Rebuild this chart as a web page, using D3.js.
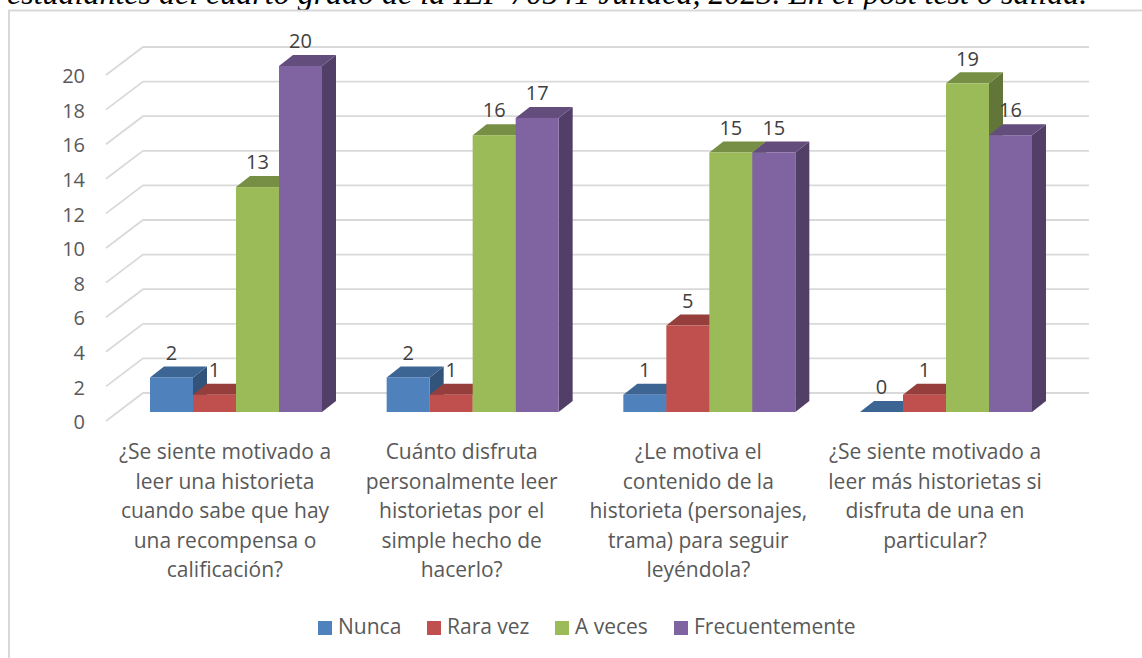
<!DOCTYPE html>
<html>
<head>
<meta charset="utf-8">
<script src="https://cdn.jsdelivr.net/npm/d3@7"></script>
<style>
html, body { margin: 0; padding: 0; background: #fff; overflow: hidden; }
svg { display: block; }
text { font-family: "Open Sans", sans-serif; }
</style>
</head>
<body>
<script>
// chart values
const categories = [
  ["¿Se siente motivado a", "leer una historieta", "cuando sabe que hay", "una recompensa o", "calificación?"],
  ["Cuánto disfruta", "personalmente leer", "historietas por el", "simple hecho de", "hacerlo?"],
  ["¿Le motiva el", "contenido de la", "historieta (personajes,", "trama) para seguir", "leyéndola?"],
  ["¿Se siente motivado a", "leer más historietas si", "disfruta de una en", "particular?"]
];
const seriesNames = ["Nunca", "Rara vez", "A veces", "Frecuentemente"];
const nunca = [2, 2, 1, 0];
const raraVez = [1, 1, 5, 1];
const aVeces = [13, 16, 15, 19];
const frecuentemente = [20, 17, 15, 16];
const yTicks = [0, 2, 4, 6, 8, 10, 12, 14, 16, 18, 20];
const caption = "estudiantes del cuarto grado de la IEP 70541 Juliaca, 2023. En el post test o salida.";

const seriesValues = [nunca, raraVez, aVeces, frecuentemente];
const frontColors = ["#4f81bd", "#c0504d", "#9bbb59", "#8064a2"];
const topColors = ["#3d6593", "#953e3c", "#778f45", "#624d7d"];
const sideColors = ["#32547a", "#7b3331", "#627639", "#523f67"];

const width = 1142, height = 658;
const dx = 14, dy = 11;            // bar depth
const wallDx = 37, wallDy = 28;    // floor depth of the grid
const wallBack = 19;               // back wall sits above the bar front

let canvas = d3.select("body").append("svg")
  .attr("width", width)
  .attr("height", height);

let y = d3.scaleLinear().domain([0, 20]).range([412, 66]);
let x0 = d3.scalePoint().domain(d3.range(categories.length)).range([150, 860]);
let x1 = d3.scaleBand().domain(d3.range(seriesNames.length)).range([0, 172]);

// caption, cut by the top of the picture
canvas.append("text")
  .attr("x", 7).attr("y", 4)
  .attr("font-size", 32)
  .attr("font-style", "italic")
  .style("font-family", "'Liberation Serif', serif")
  .attr("fill", "#000")
  .text(caption);

// chart frame
canvas.append("rect")
  .attr("x", 9).attr("y", 10.5)
  .attr("width", 1160).attr("height", 700)
  .attr("fill", "#fff")
  .attr("stroke", "#d9d9d9")
  .attr("stroke-width", 2);

// grid on the wall and floor
let grid = canvas.append("g").attr("stroke", "#d9d9d9").attr("stroke-width", 1.8).attr("fill", "none");
yTicks.forEach(t => {
  let gy = y(t) - wallBack;
  grid.append("path").attr("d", d3.line()([[143 - wallDx, gy + wallDy], [143, gy], [1089, gy]]));
});

// y labels
canvas.append("g").selectAll("text").data(yTicks).join("text")
  .attr("x", 85).attr("y", d => y(d) - wallBack + wallDy + 1)
  .attr("dy", "0.36em")
  .attr("text-anchor", "end")
  .attr("font-size", 20)
  .attr("fill", "#595959")
  .text(d => d);

// bars go left to right so the next bar hides the side of the previous
categories.forEach((c, i) => {
  let g = canvas.append("g");
  seriesNames.forEach((s, j) => {
    let v = seriesValues[j][i];
    let l = x0(i) + x1(j), r = l + x1.bandwidth();
    let t = y(v), b = y(0);
    if (v > 0) {
      g.append("path").attr("fill", sideColors[j])
        .attr("d", d3.line()([[r, t], [r + dx, t - dy], [r + dx, b - dy], [r, b]]));
    }
    g.append("path").attr("fill", topColors[j])
      .attr("d", d3.line()([[l, t], [l + dx, t - dy], [r + dx, t - dy], [r, t]]));
    if (v > 0) {
      g.append("rect").attr("x", l).attr("y", t)
        .attr("width", x1.bandwidth()).attr("height", b - t)
        .attr("fill", frontColors[j]);
    }
  });
  seriesNames.forEach((s, j) => {
    let v = seriesValues[j][i];
    canvas.append("text")
      .attr("x", x0(i) + x1(j) + x1.bandwidth() / 2)
      .attr("y", y(v) - 25)
      .attr("dy", "0.36em")
      .attr("text-anchor", "middle")
      .attr("font-size", 20)
      .attr("fill", "#404040")
      .text(v);
  });
  // category label lines
  let label = canvas.append("text")
    .attr("text-anchor", "middle")
    .attr("font-size", 21)
    .attr("fill", "#595959");
  c.forEach((line, k) => {
    label.append("tspan")
      .attr("x", x0(i) + 75)
      .attr("y", 459 + k * 29.5)
      .text(line);
  });
});

// legend
const legendX = [318, 427, 555, 674];
seriesNames.forEach((s, j) => {
  canvas.append("rect")
    .attr("x", legendX[j]).attr("y", 621)
    .attr("width", 14).attr("height", 14)
    .attr("fill", frontColors[j]);
  canvas.append("text")
    .attr("x", legendX[j] + 20).attr("y", 634)
    .attr("font-size", 21)
    .attr("fill", "#595959")
    .text(s);
});
</script>
</body>
</html>
